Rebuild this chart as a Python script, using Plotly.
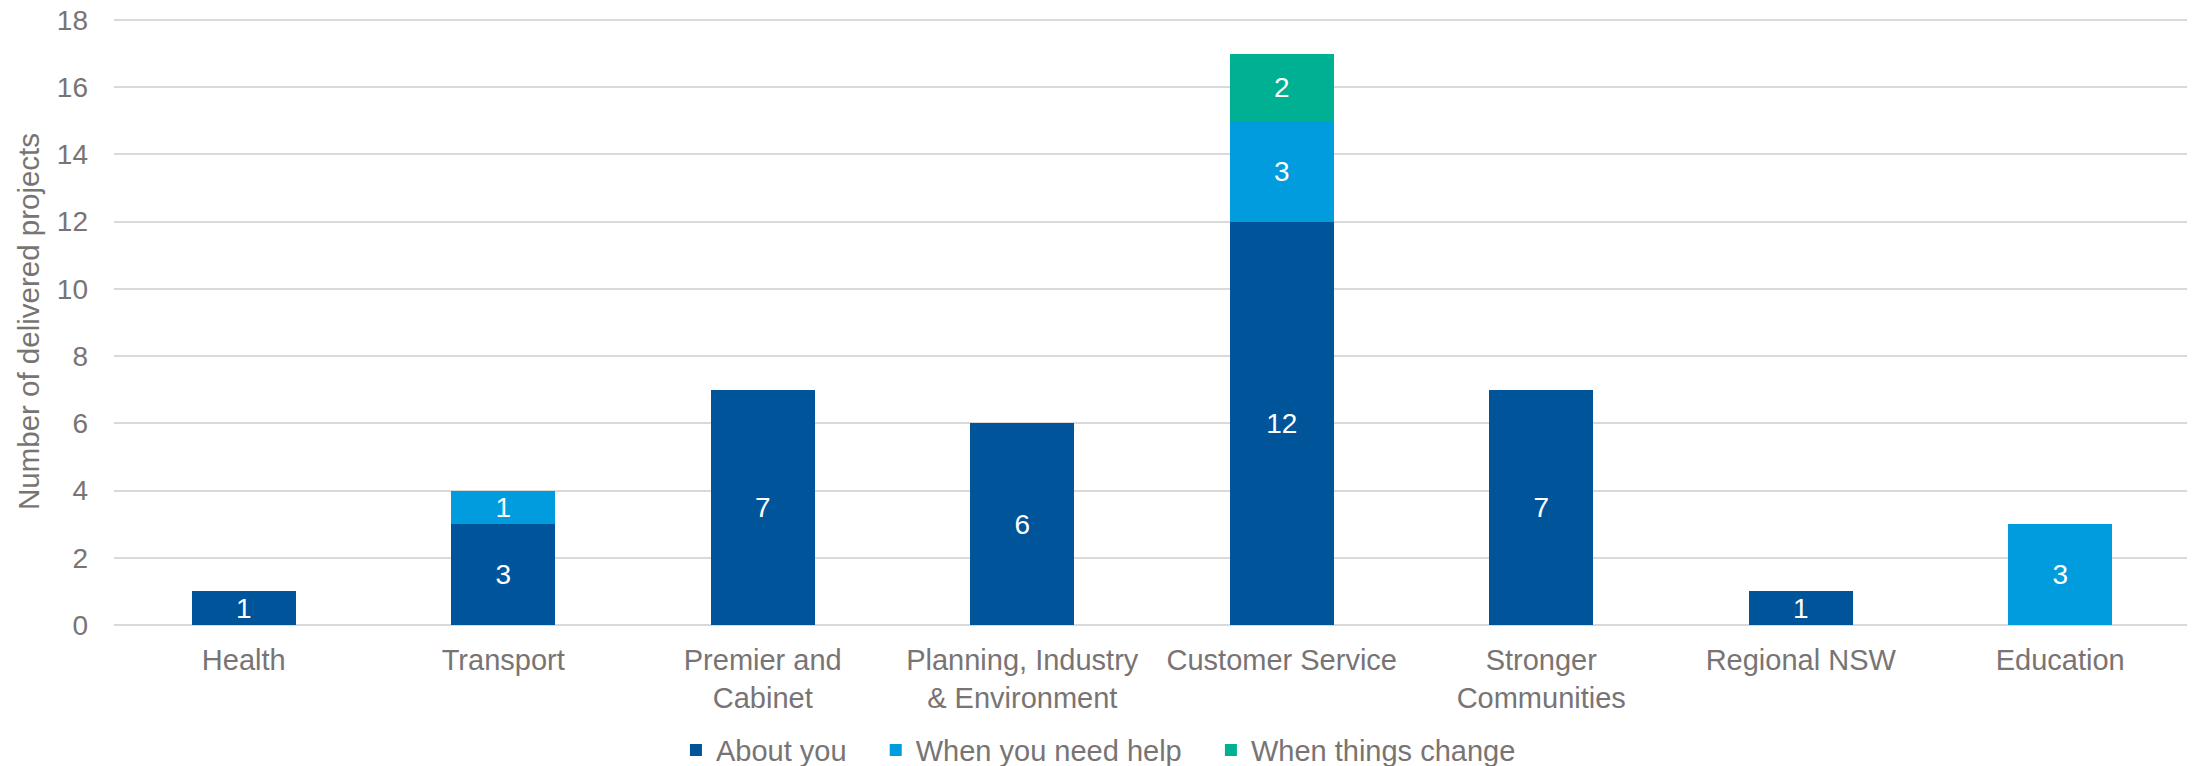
import plotly.graph_objects as go

categories = ["Health", "Transport", "Premier and<br>Cabinet", "Planning, Industry<br>& Environment",
              "Customer Service", "Stronger<br>Communities", "Regional NSW", "Education"]
about_you = [1, 3, 7, 6, 12, 7, 1, None]
need_help = [None, 1, None, None, 3, None, None, 3]
things_change = [None, None, None, None, 2, None, None, None]

NB = "\u00a0"
series = [
    ("About you" + NB * 3, about_you, "#00549a"),
    ("When you need help" + NB * 3, need_help, "#009cde"),
    ("When things change", things_change, "#00b092"),
]

fig = go.Figure()
for name, vals, color in series:
    fig.add_trace(go.Bar(
        x=categories, y=vals, name=name, marker=dict(color=color, line=dict(width=0)),
        text=[str(v) if v else "" for v in vals], textposition="inside", textangle=0,
        insidetextanchor="middle", constraintext="none",
        textfont=dict(color="white", size=28, family="Liberation Sans"),
    ))

# page has an 8px body margin, so the figure is offset by 8px; compensate in the margins
fig.update_layout(
    barmode="stack", bargap=0.6,
    width=2187, height=766,
    margin=dict(l=106, r=5, t=10, b=149, autoexpand=False),
    plot_bgcolor="white", paper_bgcolor="white",
    font=dict(family="Liberation Sans", color="#787474", size=29),
    legend=dict(orientation="h", x=0.4742, xanchor="center",
                y=-0.206, yanchor="middle", font=dict(size=29), itemwidth=30, traceorder="normal"),
    yaxis=dict(range=[0, 18.06], tickvals=[0, 2, 4, 6, 8, 10, 12, 14, 16, 18],
               gridcolor="#d9d9d9", gridwidth=1.5, zeroline=True,
               zerolinecolor="#d9d9d9", zerolinewidth=1.5, ticks="", ticklen=0, automargin=False,
               ticklabelstandoff=25, ticklabeloverflow="allow",
               title=dict(text="Number of delivered projects", standoff=8, font=dict(size=29.5)),
               tickfont=dict(size=28)),
    xaxis=dict(tickfont=dict(size=29), ticks="", automargin=False, ticklabelstandoff=15),
)
fig.write_html("out.html")
